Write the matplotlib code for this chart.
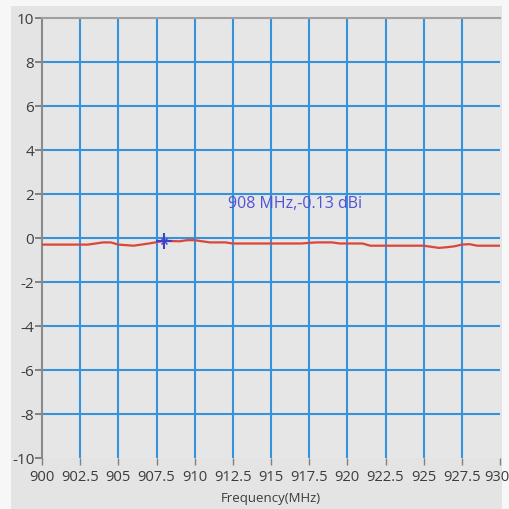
import matplotlib
matplotlib.use("Agg")
import matplotlib.pyplot as plt
import matplotlib.transforms as mtransforms
from matplotlib.patches import Rectangle

freq = [900, 901, 902, 903, 903.5, 904, 904.5, 905, 906, 906.5, 907, 908, 909, 909.5,
        910, 910.5, 911, 912, 912.5, 913, 914, 915, 916, 917, 917.5, 918, 919, 919.5,
        920, 921, 921.5, 922, 923, 924, 925, 925.5, 926, 926.5, 927, 927.5, 928, 928.5,
        929, 930]
gain = [-0.3, -0.3, -0.3, -0.3, -0.25, -0.2, -0.2, -0.3, -0.35, -0.3, -0.25, -0.13,
        -0.15, -0.1, -0.1, -0.15, -0.2, -0.2, -0.25, -0.25, -0.25, -0.25, -0.25, -0.25,
        -0.22, -0.2, -0.2, -0.25, -0.25, -0.25, -0.35, -0.35, -0.35, -0.35, -0.35, -0.4,
        -0.45, -0.42, -0.38, -0.3, -0.28, -0.35, -0.35, -0.35]
xticks = [900, 902.5, 905, 907.5, 910, 912.5, 915, 917.5, 920, 922.5, 925, 927.5, 930]
xticklabels = ["900", "902.5", "905", "907.5", "910", "912.5", "915", "917.5", "920",
               "922.5", "925", "927.5", "930"]
yticks = [-10, -8, -6, -4, -2, 0, 2, 4, 6, 8, 10]
marker_f = 908
marker_g = -0.13
marker_text = "908 MHz,-0.13 dBi"

plt.rcParams['font.family'] = ['Open Sans', 'DejaVu Sans']

fig = plt.figure(figsize=(5.1, 5.1), dpi=100, facecolor="#f7f7f7")
fig.patches.append(Rectangle((11/510, 0), (502-11)/510, 1-7/510, transform=fig.transFigure,
                             facecolor="#e4e4e4", edgecolor="none", zorder=-10))
ax = fig.add_axes([42/510, 1-459/510, (500-42)/510, (459-19)/510])
ax.set_facecolor("#e6e6e6")

grid_c = "#3593db"
for xv in xticks[1:-1]:
    ax.axvline(xv, color=grid_c, lw=1.5, zorder=1)
for yv in yticks[1:-1]:
    ax.axhline(yv, color=grid_c, lw=1.5, zorder=1)

ax.plot(freq, gain, color="#d9463e", lw=1.6, zorder=3)
ax.plot([marker_f], [marker_g], marker="+", color="#4040c8", markersize=11, mew=1.5, zorder=4)
ax.plot([marker_f], [marker_g], marker="x", color="#4040c8", markersize=4, mew=1.0, zorder=4)
ax.text(912.2, 1.6, marker_text, color="#5252d8", fontsize=11.5, va="center", ha="left", zorder=5)

ax.set_xlim(900, 930)
ax.set_ylim(-10, 10)
ax.set_xticks(xticks)
ax.set_xticklabels(xticklabels)
ax.set_yticks(yticks)
ax.set_yticklabels([str(v) for v in yticks])
ax.tick_params(axis="x", direction="out", length=5, width=1, color="#808080",
               labelsize=10.6, labelcolor="#3c3c3c", pad=3)
ax.tick_params(axis="y", direction="out", length=5, width=1.2, color="#707070",
               labelsize=11, labelcolor="#3c3c3c", pad=0.5)
last = ax.get_xticklabels()[-1]
last.set_transform(last.get_transform() + mtransforms.ScaledTranslation(-0.035, 0, fig.dpi_scale_trans))
for s in ["right", "bottom"]:
    ax.spines[s].set_visible(False)
ax.spines["left"].set_color("#8a8a8a")
ax.spines["left"].set_linewidth(1.5)
ax.spines["top"].set_color("#a0a0a0")
ax.spines["top"].set_linewidth(1.5)
ax.set_xlabel("Frequency(MHz)", fontsize=9.5, color="#3c3c3c", labelpad=5)

fig.savefig("out.png", dpi=100, facecolor=fig.get_facecolor())
